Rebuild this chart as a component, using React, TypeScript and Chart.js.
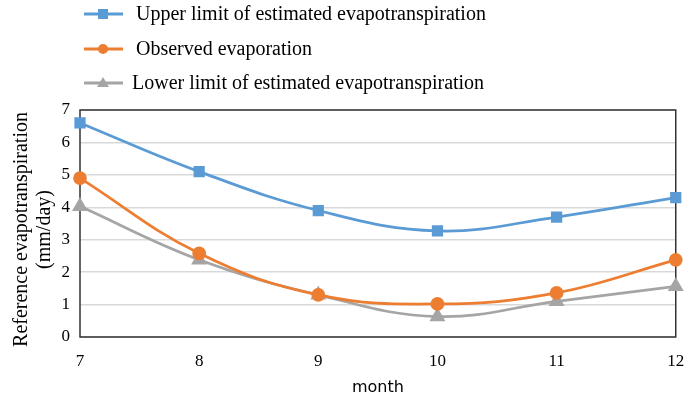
import React, { useEffect, useRef } from "react";
import { Chart, registerables } from "chart.js";

Chart.register(...registerables);

const months = ["7", "8", "9", "10", "11", "12"];
const upperLimit = [6.6, 5.1, 3.9, 3.27, 3.7, 4.3];
const observed = [4.9, 2.58, 1.3, 1.02, 1.36, 2.38];
const lowerLimit = [4.03, 2.38, 1.3, 0.63, 1.1, 1.56];
const yTicks = [0, 1, 2, 3, 4, 5, 6, 7];
const yTitleLines = ["Reference evapotranspiration", "(mm/day)"];

const seriesNames = [
  "Upper limit of estimated evapotranspiration",
  "Observed evaporation",
  "Lower limit of estimated evapotranspiration",
];
const colors = ["#5B9BD5", "#ED7D31", "#A5A5A5"];

const SERIF = "'Liberation Serif', 'Times New Roman', serif";

const legendPlugin = {
  id: "customLegend",
  afterDraw(chart: any) {
    const ctx = chart.ctx;
    const rows = [14, 49, 83];
    const textX = [136, 136, 132];
    ctx.save();
    chart.data.datasets.forEach((ds: any, i: number) => {
      const y = rows[i];
      ctx.strokeStyle = ds.borderColor;
      ctx.lineWidth = 3;
      ctx.beginPath();
      ctx.moveTo(84, y);
      ctx.lineTo(123, y);
      ctx.stroke();
      ctx.fillStyle = ds.borderColor;
      const cx = 103;
      if (ds.pointStyle === "rect") {
        ctx.fillRect(cx - 5, y - 5, 10, 10);
      } else if (ds.pointStyle === "circle") {
        ctx.beginPath();
        ctx.arc(cx, y, 5, 0, Math.PI * 2);
        ctx.fill();
      } else {
        ctx.beginPath();
        ctx.moveTo(cx, y - 6);
        ctx.lineTo(cx + 6, y + 4);
        ctx.lineTo(cx - 6, y + 4);
        ctx.closePath();
        ctx.fill();
      }
      ctx.fillStyle = "#000";
      ctx.font = `20px ${SERIF}`;
      ctx.textBaseline = "middle";
      ctx.textAlign = "left";
      ctx.fillText(ds.label, textX[i], y + 1);
    });
    // y-axis title
    const { chartArea } = chart;
    const cy = (chartArea.top + chartArea.bottom) / 2 + 6;
    ctx.font = `20px ${SERIF}`;
    ctx.textAlign = "center";
    ctx.textBaseline = "middle";
    ctx.fillStyle = "#000";
    yTitleLines.forEach((line, i) => {
      ctx.save();
      ctx.translate(22 + i * 23, cy);
      ctx.rotate(-Math.PI / 2);
      ctx.fillText(line, 0, 0);
      ctx.restore();
    });
    ctx.restore();
  },
};

const borderPlugin = {
  id: "areaBorder",
  beforeDatasetsDraw(chart: any) {
    const { ctx, chartArea } = chart;
    ctx.save();
    ctx.strokeStyle = "#333";
    ctx.lineWidth = 1.5;
    ctx.strokeRect(chartArea.left, chartArea.top, chartArea.right - chartArea.left, chartArea.bottom - chartArea.top);
    ctx.restore();
  },
};

export default function App() {
  const ref = useRef<HTMLCanvasElement | null>(null);
  useEffect(() => {
    document.body.style.margin = "0";
    const canvas = ref.current!;
    const chart = new Chart(canvas, {
      type: "line",
      data: {
        labels: months,
        datasets: [
          {
            label: seriesNames[0],
            data: upperLimit,
            borderColor: colors[0],
            backgroundColor: colors[0],
            pointStyle: "rect",
            pointRadius: 6,
            borderWidth: 2.75,
            tension: 0.4,
            clip: false,
          },
          {
            label: seriesNames[1],
            data: observed,
            borderColor: colors[1],
            backgroundColor: colors[1],
            pointStyle: "circle",
            pointRadius: 5.5,
            borderWidth: 2.75,
            tension: 0.4,
            clip: false,
          },
          {
            label: seriesNames[2],
            data: lowerLimit,
            borderColor: colors[2],
            backgroundColor: colors[2],
            pointStyle: "triangle",
            pointRadius: 6.5,
            borderWidth: 2.75,
            tension: 0.4,
            clip: false,
          },
        ] as any,
      },
      options: {
        animation: false,
        responsive: false,
        layout: { padding: { top: 110, right: 8, left: 0, bottom: 0 } },
        plugins: { legend: { display: false }, tooltip: { enabled: false } },
        scales: {
          x: {
            offset: false,
            grid: { display: false },
            border: { display: false },
            ticks: { color: "#000", font: { family: SERIF, size: 17 }, padding: 6 },
            title: {
              display: true,
              text: "month",
              color: "#000",
              font: { family: "'DejaVu Sans', sans-serif", size: 16 },
              padding: { top: 6 },
            },
            afterFit(scale: any) {
              scale.height = 64;
              scale.paddingLeft = 0;
              scale.paddingRight = 0;
            },
          },
          y: {
            min: 0,
            max: 7,
            afterBuildTicks(scale: any) {
              scale.ticks = yTicks.map((v) => ({ value: v }));
            },
            grid: { color: "#D9D9D9", lineWidth: 1.5, drawTicks: false },
            border: { display: false },
            ticks: { color: "#000", font: { family: SERIF, size: 17 }, padding: 10 },
            title: { display: false },
            afterFit(scale: any) {
              scale.width = 80;
            },
          },
        },
      },
      plugins: [borderPlugin, legendPlugin],
    });
    return () => chart.destroy();
  }, []);
  return <canvas ref={ref} width={685} height={401} style={{ display: "block" }} />;
}
